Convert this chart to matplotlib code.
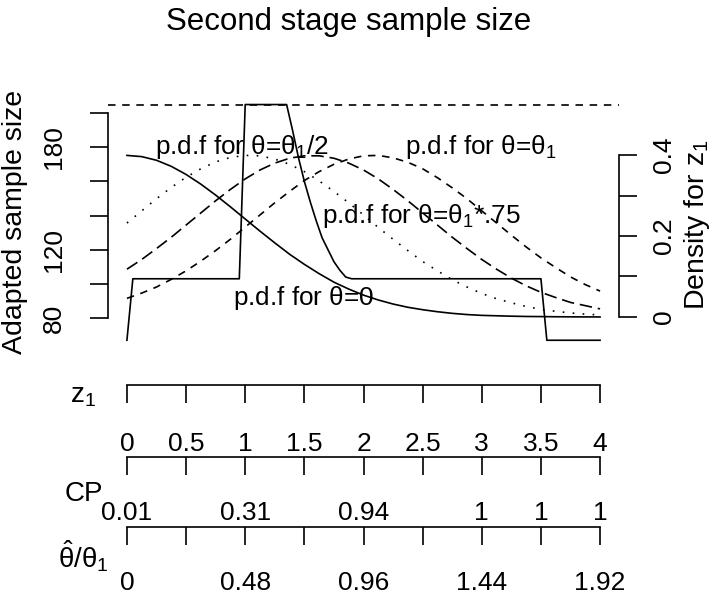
import matplotlib
matplotlib.use("Agg")
import matplotlib.pyplot as plt

plt.rcParams["font.family"] = ["Liberation Sans", "DejaVu Sans"]
plt.rcParams["mathtext.fontset"] = "custom"
plt.rcParams["mathtext.rm"] = "Liberation Sans"
plt.rcParams["mathtext.it"] = "Liberation Sans:italic"
plt.rcParams["mathtext.default"] = "regular"

# adapted second stage sample size against z1 (breakpoints of the step curve)
n_z = [0, 0.05, 0.95, 1.0, 1.35, 1.4, 1.45, 1.5, 1.55, 1.6, 1.65, 1.7, 1.75,
       1.8, 1.85, 1.9, 3.5, 3.55, 4.0]
n_val = [67, 103, 103, 205, 205, 190, 174, 160, 148, 137, 127, 120, 113,
         108, 104, 103, 103, 67, 67]

# densities of z1
dens_z = [0, 0.125, 0.25, 0.375, 0.5, 0.625, 0.75, 0.875, 1.0, 1.125, 1.25,
          1.375, 1.5, 1.625, 1.75, 1.875, 2.0, 2.125, 2.25, 2.375, 2.5, 2.625,
          2.75, 2.875, 3.0, 3.125, 3.25, 3.375, 3.5, 3.625, 3.75, 3.875, 4.0]
dens_0 = [0.399, 0.396, 0.387, 0.372, 0.352, 0.328, 0.301, 0.272, 0.242, 0.212,
          0.183, 0.155, 0.130, 0.107, 0.086, 0.069, 0.054, 0.042, 0.032, 0.024,
          0.018, 0.013, 0.009, 0.006, 0.004, 0.003, 0.002, 0.0013, 0.001,
          0.0006, 0.0004, 0.0002, 0.0001]
dens_half = [0.232, 0.262, 0.292, 0.320, 0.345, 0.366, 0.383, 0.394, 0.399,
             0.398, 0.390, 0.377, 0.359, 0.336, 0.310, 0.282, 0.252, 0.221,
             0.192, 0.164, 0.137, 0.114, 0.092, 0.074, 0.058, 0.045, 0.035,
             0.026, 0.019, 0.014, 0.010, 0.007, 0.005]
dens_75 = [0.118, 0.142, 0.169, 0.197, 0.227, 0.257, 0.287, 0.315, 0.341,
           0.363, 0.380, 0.392, 0.398, 0.398, 0.392, 0.380, 0.363, 0.341,
           0.315, 0.287, 0.257, 0.227, 0.197, 0.169, 0.142, 0.118, 0.096,
           0.077, 0.061, 0.048, 0.036, 0.028, 0.020]
dens_1 = [0.046, 0.059, 0.074, 0.093, 0.114, 0.138, 0.164, 0.192, 0.222,
          0.252, 0.282, 0.310, 0.337, 0.359, 0.377, 0.390, 0.398, 0.399,
          0.393, 0.382, 0.366, 0.344, 0.319, 0.292, 0.262, 0.232, 0.202,
          0.173, 0.146, 0.122, 0.099, 0.080, 0.064]

# lower axes
z_ticks = [0, 0.5, 1, 1.5, 2, 2.5, 3, 3.5, 4]
cp_labels = ["0.01", "", "0.31", "", "0.94", "", "1", "1", "1"]
ratio_labels = ["0", "", "0.48", "", "0.96", "", "1.44", "", "1.92"]

W, H = 717, 600
fig = plt.figure(figsize=(W / 100, H / 100), dpi=100)


def rect(l, t, r, b):
    return [l / W, 1 - b / H, (r - l) / W, (b - t) / H]


lw = 1.2
fs = 19
ax = fig.add_axes(rect(108, 96, 619, 350))
ax.set_xlim(-0.16, 4.16)
ax.set_ylim(61.3, 210)
ax.patch.set_visible(False)
ax.plot(n_z, n_val, color="black", lw=lw)
ax.axhline(max(n_val), color="black", lw=lw, ls=(0, (4.5, 4)))
for s in ["top", "right", "bottom"]:
    ax.spines[s].set_visible(False)
ax.spines["left"].set_bounds(80, 200)
ax.spines["left"].set_linewidth(lw)
ax.set_xticks([])
ax.set_yticks([80, 100, 120, 140, 160, 180, 200])
ax.set_yticklabels(["80", "", "120", "", "", "180", ""], rotation=90, va="center")
ax.tick_params(axis="y", length=13, width=lw, pad=17, labelsize=fs)

ax2 = ax.twinx()
ax2.set_ylim(-0.0815, 0.5457)
ax2.plot(dens_z, dens_0, color="black", lw=lw)
ax2.plot(dens_z, dens_half, color="black", lw=lw, ls=(0, (1, 5)))
ax2.plot(dens_z, dens_75, color="black", lw=lw, ls=(0, (7.5, 3.5)))
ax2.plot(dens_z, dens_1, color="black", lw=lw, ls=(0, (4.5, 4)))
for s in ["top", "left", "bottom"]:
    ax2.spines[s].set_visible(False)
ax2.spines["right"].set_bounds(0, 0.4)
ax2.spines["right"].set_linewidth(lw)
ax2.set_yticks([0, 0.1, 0.2, 0.3, 0.4])
ax2.set_yticklabels(["0", "", "0.2", "", "0.4"], rotation=90, va="center")
ax2.tick_params(axis="y", length=13, width=lw, pad=11, labelsize=fs)

tfs = 18.8
ax.text(0.97, 180, r"p.d.f for $\theta$=$\theta_1$/2", ha="center", va="center", fontsize=tfs)
ax.text(2.99, 180, r"p.d.f for $\theta$=$\theta_1$", ha="center", va="center", fontsize=tfs)
ax.text(2.49, 140, r"p.d.f for $\theta$=$\theta_1$*.75", ha="center", va="center", fontsize=tfs)
ax.text(1.49, 92, r"p.d.f for $\theta$=0", ha="center", va="center", fontsize=tfs)

fig.text(349 / W, 1 - 22 / H, "Second stage sample size", ha="center", va="center", fontsize=22.5)
fig.text(15 / W, 1 - 222 / H, "Adapted sample size", rotation=90, ha="center", va="center", fontsize=20.5)
fig.text(697 / W, 1 - 225 / H, r"Density for $z_1$", rotation=90, ha="center", va="center", fontsize=20.5)

# three stacked scales below the plot
for y_line, labels, pad in [(385, [("%g" % t) for t in z_ticks], 21),
                             (457, cp_labels, 19),
                             (527, ratio_labels, 19)]:
    bx = fig.add_axes(rect(108, y_line - 1, 619, y_line))
    bx.set_xlim(-0.16, 4.16)
    bx.patch.set_visible(False)
    for s in ["top", "left", "right"]:
        bx.spines[s].set_visible(False)
    bx.spines["bottom"].set_bounds(0, 4)
    bx.spines["bottom"].set_linewidth(lw)
    bx.set_yticks([])
    bx.set_xticks(z_ticks)
    bx.set_xticklabels(labels)
    bx.tick_params(axis="x", length=13, width=lw, pad=pad, labelsize=fs)

fig.text(83 / W, 1 - 396 / H, r"$z_1$", ha="center", va="center", fontsize=20)
fig.text(84 / W, 1 - 494 / H, "CP", ha="center", va="center", fontsize=20)
fig.text(83 / W, 1 - 556 / H, r"$\hat{\theta}/\theta_1$", ha="center", va="center", fontsize=20)

fig.savefig("out.png", dpi=100, facecolor="white")
